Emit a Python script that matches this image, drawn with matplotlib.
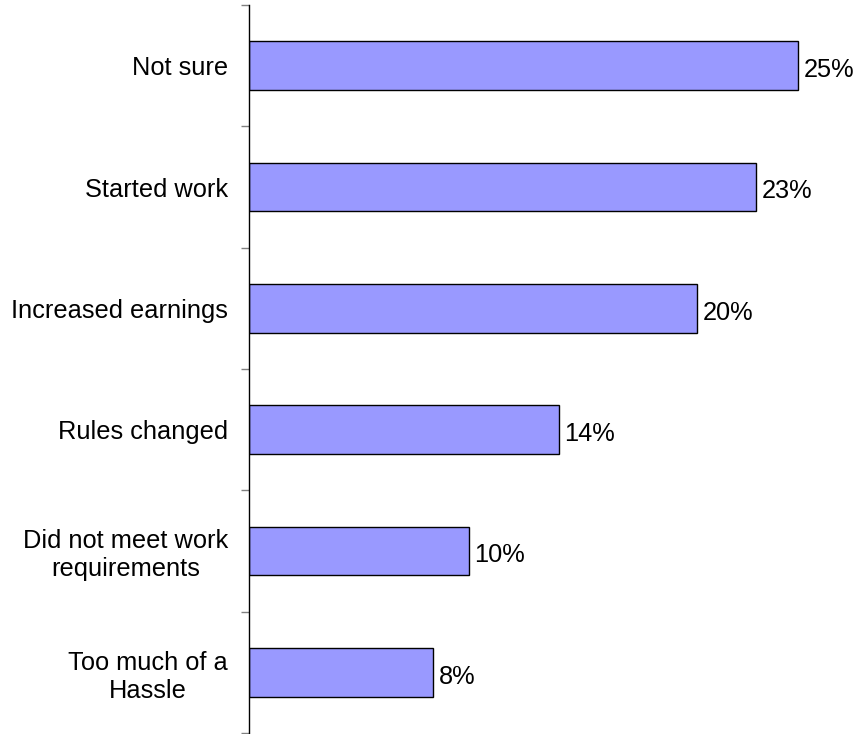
import matplotlib
matplotlib.use("Agg")
import matplotlib.pyplot as plt
import numpy as np

plt.rcParams['font.family'] = ['Liberation Sans', 'DejaVu Sans']

categories = ["Not sure", "Started work", "Increased earnings", "Rules changed",
              "Did not meet work\nrequirements", "Too much of a\nHassle"]
values = [25.0, 23.1, 20.4, 14.1, 10.0, 8.4]

fig = plt.figure(figsize=(8.6, 7.34), dpi=100)
ax = fig.add_axes([249/860, 1/734, 600/860, 728/734])

y = np.arange(len(categories))
bars = ax.barh(y, values, height=0.4, color="#9999FF", edgecolor="black", linewidth=1.0)

ax.set_ylim(len(categories) - 0.5, -0.5)
ax.set_xlim(0, 600/21.96)

# tick marks between categories, labels at centres without marks
ax.set_yticks(np.arange(-0.5, len(categories)), labels=[])
ax.tick_params(axis='y', which='major', length=6, width=1, color="#808080", direction='out')
ax.set_yticks(y, labels=categories, minor=True)
ax.tick_params(axis='y', which='minor', length=0, pad=15, labelsize=18.3)
for lab in ax.get_yticklabels(minor=True):
    lab.set_multialignment('center')
    lab.set_linespacing(1.2)

ax.set_xticks([])
for s in ["top", "right", "bottom"]:
    ax.spines[s].set_visible(False)
ax.spines["left"].set_color("black")
ax.spines["left"].set_linewidth(1.0)

for yi, v in zip(y, values):
    ax.annotate(f"{v:.0f}%", xy=(v, yi), xytext=(4, -3), textcoords="offset points",
                va="center", ha="left", fontsize=18.3)

fig.savefig("out.png", dpi=100)
